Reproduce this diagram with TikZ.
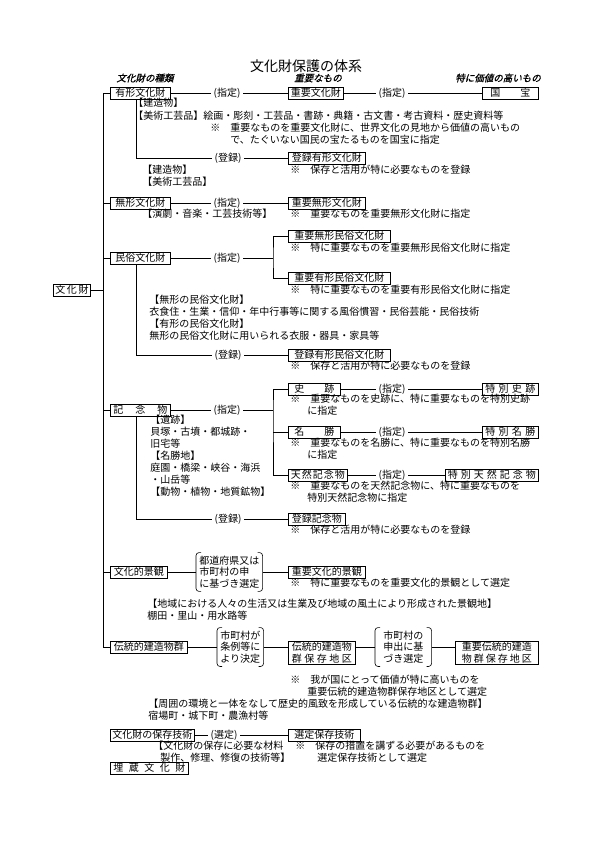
\documentclass[tikz,border=0pt]{standalone}
\usepackage{fontspec}
\setmainfont{Noto Sans CJK JP}
\newfontfamily\headfont[FakeSlant=0.25,FakeBold=1.2]{Noto Sans CJK JP}
\newcommand\kakko[1]{%
  \draw[rounded corners=3pt] ([xshift=5pt]#1.north west) -- (#1.north west) -- (#1.south west) -- ([xshift=5pt]#1.south west);
  \draw[rounded corners=3pt] ([xshift=-5pt]#1.north east) -- (#1.north east) -- (#1.south east) -- ([xshift=-5pt]#1.south east);}
\begin{document}
\begin{tikzpicture}[x=1pt, y=-1pt, line width=0.6pt,
    font=\fontsize{10}{12}\selectfont,
    box/.style={draw, anchor=west, inner xsep=2pt, inner ysep=1pt, minimum height=12pt},
    lbl/.style={inner xsep=2.5pt, inner ysep=0pt},
    txt/.style={anchor=west, inner sep=0pt, align=left},
    brk/.style={anchor=west, align=left, inner xsep=3pt, inner ysep=3pt, font=\fontsize{10}{11.5}\selectfont},
    head/.style={font=\headfont\fontsize{9.5}{11}\selectfont}]
    \useasboundingbox (0,0) rectangle (595,842);

    % 1. Tiêu đề
    \node[font=\fontsize{14}{16}\selectfont] (title) at (306,66) {文化財保護の体系};
    \node[head] (hd1) at (145,78) {文化財の種類};
    \node[head] (hd2) at (318,78) {重要なもの};
    \node[head] (hd3) at (498,78) {特に価値の高いもの};

    % 2. Cột trái và trục chính
    \node[box, minimum width=34pt] (bunkazai) at (53,290) {文\,化\,財};
    \node[box, minimum width=60pt] (yukei) at (110,93) {有形文化財};
    \node[box, minimum width=60pt] (mukei) at (110,203) {無形文化財};
    \node[box, minimum width=60pt] (minzoku) at (110,258) {民俗文化財};
    \node[box, minimum width=60pt] (kinen) at (110,410) {\makebox[54pt]{記\hfill 念\hfill 物}};
    \node[box, minimum width=57pt] (keikan) at (110,572) {文化的景観};
    \node[box, minimum width=77pt] (dentou) at (110,647) {伝統的建造物群};
    \node[box, minimum width=78pt] (gijutsu) at (110,735) {文化財の保存技術};
    \node[box, minimum width=78pt] (maizou) at (110,768) {\makebox[72pt]{埋\hfill 蔵\hfill 文\hfill 化\hfill 財}};
    \coordinate (trunkT) at (103,93);
    \draw (yukei.west) -- (trunkT) -- (trunkT |- dentou.west) -- (dentou.west);
    \foreach \n in {mukei,minzoku,kinen,keikan}
        \draw (trunkT |- \n.west) -- (\n.west);
    \draw (bunkazai.east) -- (trunkT |- bunkazai.east);

    % 3. Có hình
    \node[lbl] (shitei1) at (227,93) {(指定)};
    \node[box, minimum width=55pt] (juuyou) at (288,93) {重要文化財};
    \node[lbl] (shitei2) at (392,93) {(指定)};
    \node[box, minimum width=56pt] (kokuhou) at (482,93) {国　　宝};
    \draw (yukei.east) -- (shitei1.west);
    \draw (shitei1.east) -- (juuyou.west);
    \draw (juuyou.east) -- (shitei2.west);
    \draw (shitei2.east) -- (kokuhou.west);
    \node[txt] (t1) at (133,103) {【建造物】};
    \node[txt] (t2) at (133,116) {【美術工芸品】絵画・彫刻・工芸品・書跡・典籍・古文書・考古資料・歴史資料等};
    \node[txt] (n1) at (210,134) {※　重要なものを重要文化財に、世界文化の見地から価値の高いもの\\　　で、たぐいない国民の宝たるものを国宝に指定};
    \node[lbl] (toroku1) at (228,158) {(登録)};
    \node[box, minimum width=77pt] (torokuyukei) at (288,158) {登録有形文化財};
    \draw ([xshift=26pt]yukei.south west) |- (toroku1.west);
    \draw (toroku1.east) -- (torokuyukei.west);
    \node[txt] (n2) at (290,170) {※　保存と活用が特に必要なものを登録};
    \node[txt] (t3) at (142,176) {【建造物】\\【美術工芸品】};

    % 4. Vô hình
    \node[lbl] (shitei3) at (227,203) {(指定)};
    \node[box, minimum width=77pt] (juumukei) at (288,203) {重要無形文化財};
    \draw (mukei.east) -- (shitei3.west);
    \draw (shitei3.east) -- (juumukei.west);
    \node[txt] (t4) at (142,214) {【演劇・音楽・工芸技術等】};
    \node[txt] (n3) at (290,214) {※　重要なものを重要無形文化財に指定};

    % 5. Dân tục
    \node[lbl] (shitei4) at (227,258) {(指定)};
    \coordinate (jm) at (273,258);
    \node[box, minimum width=102pt] (juumin1) at (288,236) {重要無形民俗文化財};
    \node[box, minimum width=102pt] (juumin2) at (288,278) {重要有形民俗文化財};
    \draw (minzoku.east) -- (shitei4.west);
    \draw (shitei4.east) -- (jm);
    \draw (juumin1.west) -| (jm) |- (juumin2.west);
    \node[txt] (n4) at (290,248) {※　特に重要なものを重要無形民俗文化財に指定};
    \node[txt] (n5) at (290,290) {※　特に重要なものを重要有形民俗文化財に指定};
    \node[txt] (t5) at (149,318) {【無形の民俗文化財】\\衣食住・生業・信仰・年中行事等に関する風俗慣習・民俗芸能・民俗技術\\【有形の民俗文化財】\\無形の民俗文化財に用いられる衣服・器具・家具等};
    \node[lbl] (toroku2) at (228,355) {(登録)};
    \node[box, minimum width=102pt] (torokumin) at (288,355) {登録有形民俗文化財};
    \draw ([xshift=26pt]minzoku.south west) |- (toroku2.west);
    \draw (toroku2.east) -- (torokumin.west);
    \node[txt] (n6) at (290,366) {※　保存と活用が特に必要なものを登録};

    % 6. Kỷ niệm vật
    \node[lbl] (shitei5) at (227,410) {(指定)};
    \coordinate (jk) at (273,410);
    \node[box, minimum width=52pt] (shiseki) at (288,389) {史　　跡};
    \node[lbl] (shitei6) at (392,389) {(指定)};
    \node[box, minimum width=56pt] (tokushiseki) at (482,389) {\makebox[50pt]{特\hfill 別\hfill 史\hfill 跡}};
    \node[box, minimum width=52pt] (meishou) at (288,432) {名　　勝};
    \node[lbl] (shitei7) at (392,432) {(指定)};
    \node[box, minimum width=56pt] (tokumeishou) at (482,432) {\makebox[50pt]{特\hfill 別\hfill 名\hfill 勝}};
    \node[box, minimum width=59pt] (tennen) at (288,475) {\makebox[54pt]{天\hfill 然\hfill 記\hfill 念\hfill 物}};
    \node[lbl] (shitei8) at (392,475) {(指定)};
    \node[box, minimum width=93pt] (tokutennen) at (445,475) {\makebox[88pt]{特\hfill 別\hfill 天\hfill 然\hfill 記\hfill 念\hfill 物}};
    \draw (kinen.east) -- (shitei5.west);
    \draw (shitei5.east) -- (jk);
    \draw (shiseki.west) -| (jk) |- (tennen.west);
    \draw (jk |- meishou.west) -- (meishou.west);
    \draw (shiseki.east) -- (shitei6.west);
    \draw (shitei6.east) -- (tokushiseki.west);
    \draw (meishou.east) -- (shitei7.west);
    \draw (shitei7.east) -- (tokumeishou.west);
    \draw (tennen.east) -- (shitei8.west);
    \draw (shitei8.east) -- (tokutennen.west);
    \node[txt] (n7) at (290,405) {※　重要なものを史跡に、特に重要なものを特別史跡\\\hspace*{17pt}に指定};
    \node[txt] (n8) at (290,449) {※　重要なものを名勝に、特に重要なものを特別名勝\\\hspace*{17pt}に指定};
    \node[txt] (n9) at (290,492) {※　重要なものを天然記念物に、特に重要なものを\\\hspace*{17pt}特別天然記念物に指定};
    \node[txt] (t6) at (150,456) {【遺跡】\\貝塚・古墳・都城跡・\\旧宅等\\【名勝地】\\庭園・橋梁・峡谷・海浜\\・山岳等\\【動物・植物・地質鉱物】};
    \node[lbl] (toroku3) at (228,519) {(登録)};
    \node[box, minimum width=57pt] (torokukinen) at (288,519) {登録記念物};
    \draw ([xshift=26pt]kinen.south west) |- (toroku3.west);
    \draw (toroku3.east) -- (torokukinen.west);
    \node[txt] (n10) at (290,530) {※　保存と活用が特に必要なものを登録};

    % 7. Cảnh quan văn hóa
    \node[brk] (sel1) at (196,572) {都道府県又は\\市町村の申\\に基づき選定};
    \kakko{sel1}
    \node[box, minimum width=77pt] (juukeikan) at (288,572) {重要文化的景観};
    \draw (keikan.east) -- (sel1.west);
    \draw (sel1.east) -- (juukeikan.west);
    \node[txt] (n11) at (290,583) {※　特に重要なものを重要文化的景観として選定};
    \node[txt] (t7) at (147,610) {【地域における人々の生活又は生業及び地域の風土により形成された景観地】\\棚田・里山・用水路等};

    % 8. Quần kiến trúc truyền thống
    \node[brk] (sel2) at (217,647) {市町村が\\条例等に\\より決定};
    \kakko{sel2}
    \node[box, align=center, minimum width=67pt] (denken) at (288,653) {伝統的建造物\\\makebox[60pt]{群\hfill 保\hfill 存\hfill 地\hfill 区}};
    \node[brk, inner xsep=8pt] (sel3) at (375,647) {市町村の\\申出に基\\づき選定};
    \kakko{sel3}
    \node[box, align=center, minimum width=83pt] (juuden) at (455,653) {重要伝統的建造\\\makebox[70pt]{物\hfill 群\hfill 保\hfill 存\hfill 地\hfill 区}};
    \draw (dentou.east) -- (sel2.west);
    \draw (sel2.east) -- (sel2.east -| denken.west);
    \draw (denken.east |- sel3.west) -- (sel3.west);
    \draw (sel3.east) -- (sel3.east -| juuden.west);
    \node[txt] (n12) at (290,686) {※　我が国にとって価値が特に高いものを\\\hspace*{17pt}重要伝統的建造物群保存地区として選定};
    \node[txt] (t8) at (148,710) {【周囲の環境と一体をなして歴史的風致を形成している伝統的な建造物群】\\宿場町・城下町・農漁村等};

    % 9. Kỹ thuật bảo tồn
    \node[lbl] (sentei) at (224,735) {(選定)};
    \node[box, minimum width=72pt] (senteigijutsu) at (288,735) {選定保存技術};
    \draw (gijutsu.east) -- (sentei.west);
    \draw (sentei.east) -- (senteigijutsu.west);
    \node[txt] (t9) at (153,746) {【文化財の保存に必要な材料};
    \node[txt] (t10) at (160,758) {製作、修理、修復の技術等】};
    \node[txt] (n13) at (295,752) {※　保存の措置を講ずる必要があるものを\\\hspace*{22pt}選定保存技術として選定};
\end{tikzpicture}
\end{document}
